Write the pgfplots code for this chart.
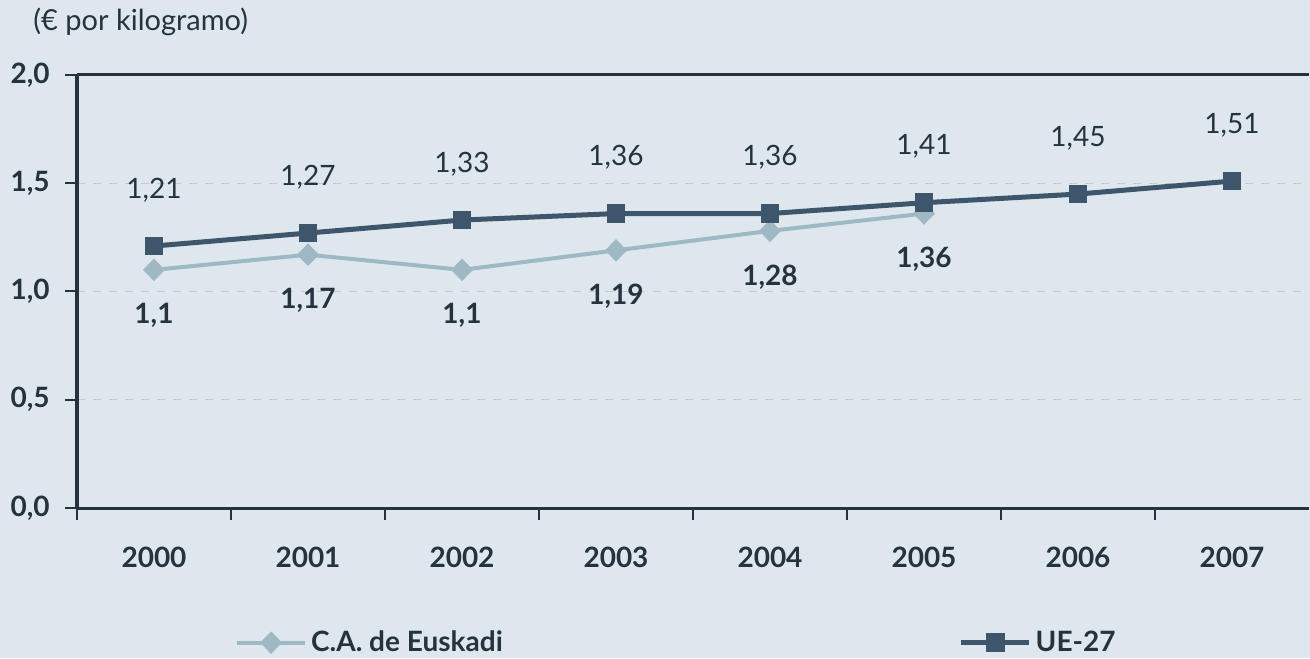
\documentclass[border=0pt]{standalone}
\usepackage{pgfplots}
\pgfplotsset{compat=1.18}
\usepackage{fontspec}
\setmainfont{Lato}
\definecolor{bg}{HTML}{DFE7EE}
\definecolor{dark}{HTML}{3E566B}
\definecolor{light}{HTML}{9FB9C4}
\definecolor{txt}{HTML}{26333F}
\definecolor{gridc}{HTML}{C8C9C4}
\begin{document}
\begin{tikzpicture}
\fill[bg] (0,0) rectangle (655pt,329pt);
\useasboundingbox (0,0) rectangle (655pt,329pt);
\node[anchor=west, text=txt, font=\fontsize{14.5}{16}\selectfont, inner sep=0pt] at (16.5pt,318pt) {(€ por kilogramo)};
\begin{axis}[
  at={(38.5pt,75pt)}, anchor=south west, scale only axis,
  width=616pt, height=216.5pt,
  xmin=-0.5, xmax=7.5, ymin=0, ymax=2,
  clip=false,
  /pgf/number format/assume math mode=true,
  axis lines*=left,
  axis line style={-, draw=txt, line width=1.5pt},
  tick align=outside, major tick length=6pt,
  tick style={draw=txt, line width=1pt},
  xtick={-0.5,0.5,1.5,2.5,3.5,4.5,5.5,6.5}, xticklabels={},
  extra x ticks={0,1,2,3,4,5,6,7},
  extra x tick labels={2000,2001,2002,2003,2004,2005,2006,2007},
  extra x tick style={major tick length=0pt, xticklabel style={anchor=center, yshift=-24.5pt}},
  ytick={0,0.5,1,1.5},
  extra y ticks={2},
  extra y tick style={major grid style={solid, draw=txt, line width=1.5pt}},
  ymajorgrids,
  major grid style={dashed, dash pattern=on 4pt off 4pt, draw=gridc, line width=0.6pt},
  yticklabel={\pgfmathprintnumber[fixed,fixed zerofill,precision=1,use comma]{\tick}},
  yticklabel style={anchor=east, inner sep=0pt, xshift=-7.5pt},
  ticklabel style={font=\bfseries\fontsize{14}{16}\selectfont, text=txt},
  legend style={at={(0.128,-0.311)}, anchor=west, draw=none, fill=none,
    legend columns=2, font=\bfseries\fontsize{14}{16}\selectfont, text=txt,
    /tikz/every even column/.append style={column sep=226pt}, inner sep=0pt},
  legend image code/.code={\draw[mark repeat=2, mark phase=2] plot coordinates {(0pt,0pt)(17pt,0pt)(34pt,0pt)};},
]
\addplot[light, line width=2pt, mark=diamond*, mark size=4.2pt,
  mark options={xscale=1.3, solid},
  nodes near coords={\pgfmathprintnumber[use comma,precision=2]{\pgfplotspointmeta}},
  nodes near coords align={anchor=center},
  every node near coord/.append style={font=\bfseries\fontsize{14}{16}\selectfont, text=txt, anchor=center, yshift=-23pt}]
  coordinates {(0,1.1)(1,1.17)(2,1.1)(3,1.19)(4,1.28)(5,1.36)};
\addlegendentry{C.A. de Euskadi}
\addplot[dark, line width=2.5pt, mark=square*, mark size=3.4pt,
  mark options={solid},
  nodes near coords={\pgfmathprintnumber[use comma,precision=2]{\pgfplotspointmeta}},
  nodes near coords align={anchor=center},
  every node near coord/.append style={font=\fontsize{14}{16}\selectfont, text=txt, anchor=center, yshift=28pt}]
  coordinates {(0,1.21)(1,1.27)(2,1.33)(3,1.36)(4,1.36)(5,1.41)(6,1.45)(7,1.51)};
\addlegendentry{UE-27}
\end{axis}
\end{tikzpicture}
\end{document}
